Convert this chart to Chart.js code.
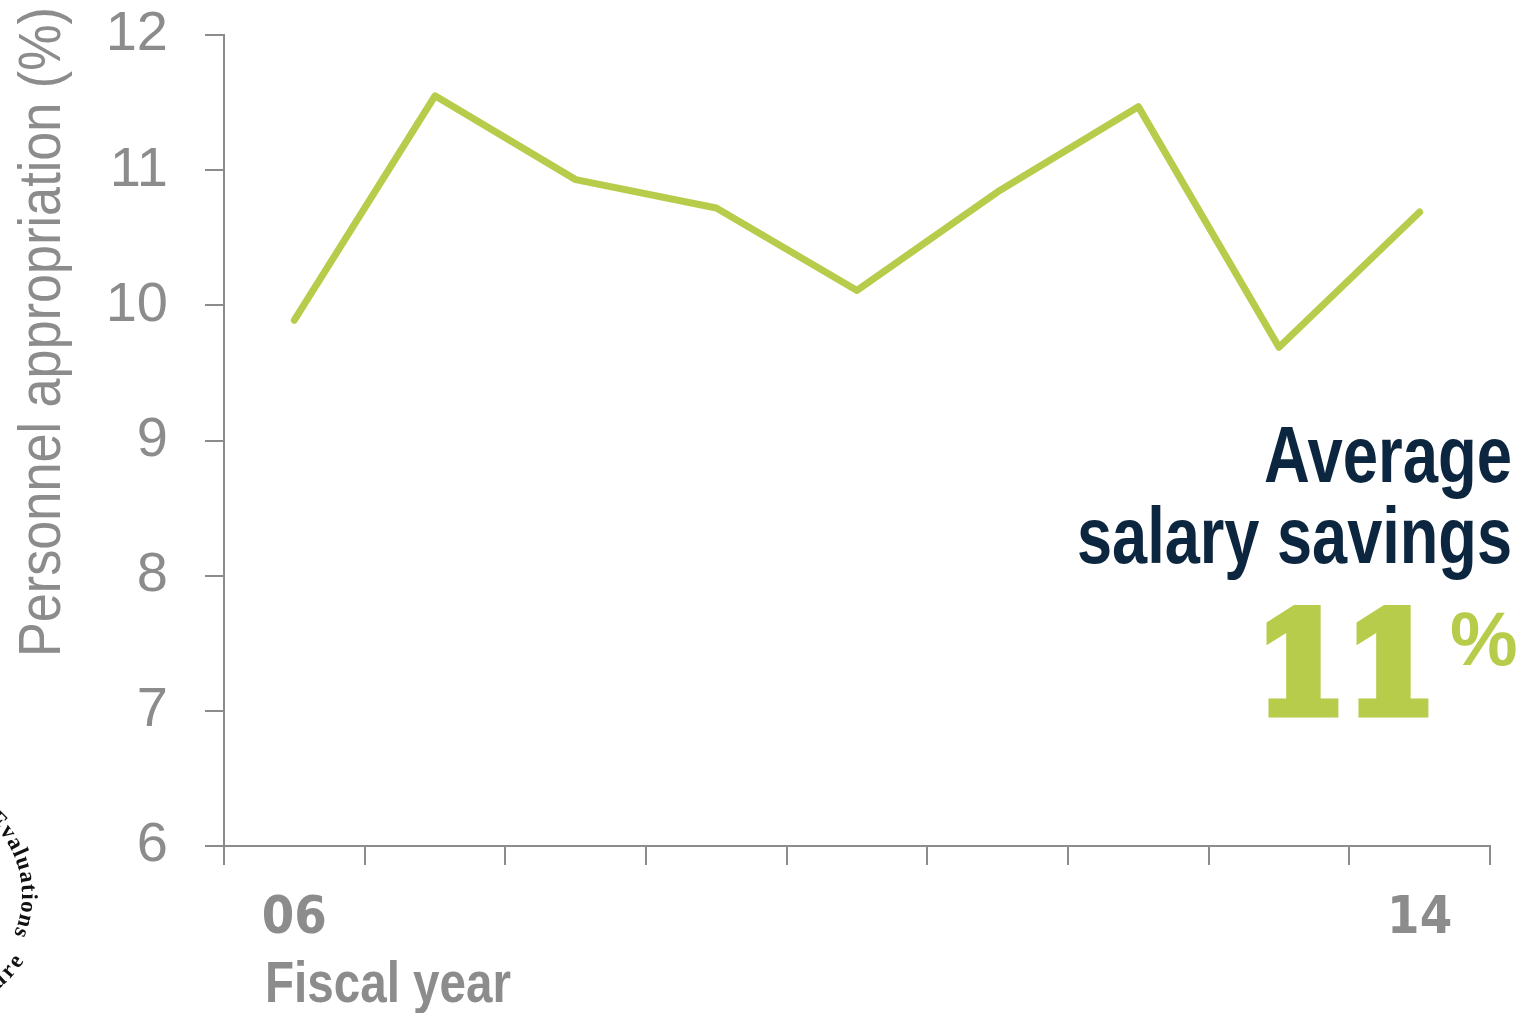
<!DOCTYPE html>
<html>
<head>
<meta charset="utf-8">
<script src="https://cdn.jsdelivr.net/npm/chart.js@4"></script>
<style>
  html, body { margin: 0; padding: 0; background: #fff; }
  #wrap { width: 1533px; height: 1013px; position: relative; }
</style>
</head>
<body>
<div id="wrap"><canvas id="myChart" width="1533" height="1013"></canvas></div>
<script>
const years = ["06", "07", "08", "09", "10", "11", "12", "13", "14"];
const appropriationPct = [9.89, 11.55, 10.93, 10.72, 10.11, 10.84, 11.47, 9.69, 10.69];
const labelledYears = ["06", "14"];
const yMin = 6;
const yMax = 12;
const averageSavings = 11;

const gray = "#8c8c8c";
const green = "#b7cc4a";
const navy = "#0c2640";
const sans = "'Liberation Sans', Arial, sans-serif";
const condensed = "'DejaVu Sans Condensed', 'DejaVu Sans', sans-serif";

// draws a string along a circle, one glyph at a time
function arcText(ctx, text, cx, cy, r, startAngle, clockwise) {
  let a = startAngle;
  for (const ch of text) {
    const step = (ctx.measureText(ch).width + 1) / r;
    a += clockwise ? step / 2 : -step / 2;
    ctx.save();
    ctx.translate(cx + r * Math.cos(a), cy + r * Math.sin(a));
    ctx.rotate(clockwise ? a + Math.PI / 2 : a - Math.PI / 2);
    ctx.fillText(ch, 0, 0);
    ctx.restore();
    a += clockwise ? step / 2 : -step / 2;
  }
}

// angle a string covers on a circle of radius r
function arcSpan(ctx, text, r) {
  let s = 0;
  for (const ch of text) s += (ctx.measureText(ch).width + 1) / r;
  return s;
}

const annotations = {
  id: "annotations",
  afterDraw(c) {
    const ctx = c.ctx;
    const area = c.chartArea;
    ctx.save();

    // y axis title, squeezed to a narrow face
    ctx.fillStyle = gray;
    ctx.font = "60px " + sans;
    ctx.textAlign = "left";
    ctx.textBaseline = "alphabetic";
    ctx.save();
    ctx.translate(60, 657);
    ctx.rotate(-Math.PI / 2);
    ctx.fillText("Personnel appropriation (%)", 0, 0, 650);
    ctx.restore();

    // x axis title
    ctx.font = "bold 58px " + sans;
    ctx.fillText("Fiscal year", area.left + 41, 1002, 246);

    // callout
    ctx.fillStyle = navy;
    ctx.textAlign = "right";
    ctx.font = "bold 80px " + sans;
    ctx.fillText("Average", 1512, 482, 248);
    ctx.fillText("salary savings", 1512, 563, 435);

    // big slab figure, thickened with a stroke of the same colour
    ctx.fillStyle = green;
    ctx.strokeStyle = green;
    ctx.lineWidth = 11;
    ctx.lineJoin = "miter";
    ctx.font = "bold 136px 'DejaVu Serif', serif";
    ctx.textAlign = "left";
    ctx.fillText(String(averageSavings), 1256, 712, 180);
    ctx.strokeText(String(averageSavings), 1256, 712, 180);
    ctx.font = "bold 76px " + sans;
    ctx.fillText("%", 1450, 665, 75);

    // seal edge at the lower left
    ctx.fillStyle = "#111";
    ctx.font = "bold 23px 'Liberation Serif', serif";
    ctx.textAlign = "center";
    ctx.textBaseline = "alphabetic";
    arcText(ctx, "Evaluations", -78, 895, 100, -0.86, true);
    ctx.textBaseline = "top";
    const bottomText = "Legislature";
    arcText(ctx, bottomText, -78, 895, 104, 0.56 + arcSpan(ctx, bottomText, 104), false);

    ctx.restore();
  }
};

new Chart(document.getElementById("myChart"), {
  type: "line",
  data: {
    labels: years,
    datasets: [
      {
        data: appropriationPct,
        borderColor: green,
        borderWidth: 7,
        borderCapStyle: "round",
        borderJoinStyle: "round",
        pointRadius: 0,
        tension: 0,
        fill: false,
      },
    ],
  },
  options: {
    responsive: false,
    animation: false,
    layout: { padding: { top: 0, right: 43, left: 0, bottom: 0 } },
    plugins: {
      legend: { display: false },
      tooltip: { enabled: false },
    },
    scales: {
      x: {
        offset: true,
        grid: {
          offset: true,
          drawOnChartArea: false,
          tickLength: 19,
          color: gray,
          lineWidth: 2,
        },
        border: { color: gray, width: 2 },
        ticks: {
          autoSkip: false,
          maxRotation: 0,
          color: gray,
          padding: 23,
          font: { family: condensed, size: 52, weight: "bold" },
          callback: (v, i) => (labelledYears.includes(years[i]) ? years[i] : ""),
        },
        afterFit: (s) => {
          s.height = 167;
        },
      },
      y: {
        min: yMin,
        max: yMax,
        grid: {
          drawOnChartArea: false,
          tickLength: 19,
          color: gray,
          lineWidth: 2,
        },
        border: { color: gray, width: 2 },
        ticks: {
          stepSize: 1,
          color: gray,
          padding: 37,
          font: { family: sans, size: 56 },
        },
        afterFit: (s) => {
          s.width = 224;
          s.paddingTop = 35;
          s.paddingBottom = 0;
        },
      },
    },
  },
  plugins: [annotations],
});
</script>
</body>
</html>
